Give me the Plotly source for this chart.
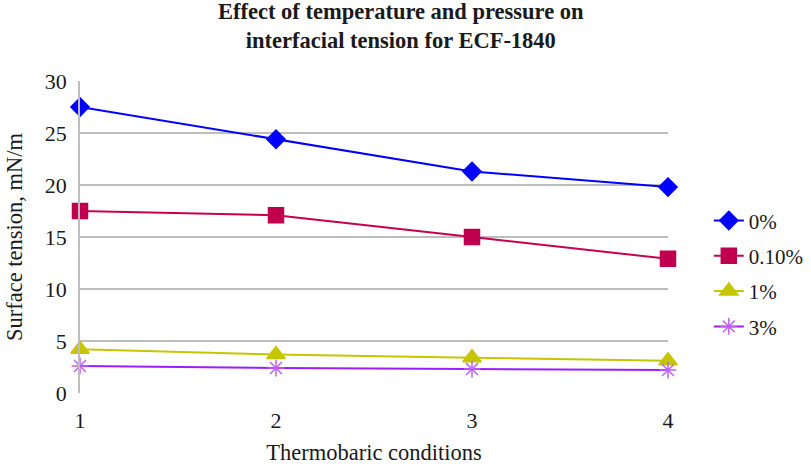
import plotly.graph_objects as go

conditions = [1, 2, 3, 4]
series_names = ["0%", "0.10%", "1%", "3%"]
v0 = [27.5, 24.4, 21.3, 19.8]
v010 = [17.5, 17.1, 15.0, 12.9]
v1 = [4.2, 3.7, 3.4, 3.1]
v3 = [2.6, 2.4, 2.3, 2.2]
y_ticks = [0, 5, 10, 15, 20, 25, 30]

styles = [
    dict(color="#0000ff", mcolor="#0000ff", symbol="diamond", size=14),
    dict(color="#c8004f", mcolor="#c0004e", symbol="square", size=15),
    dict(color="#c6c600", mcolor="#c6c600", symbol="triangle-up", size=16),
    dict(color="#9a1dff", mcolor="#c060ff", symbol="asterisk-open", size=14),
]

FF = "Liberation Serif, Times New Roman, serif"
TXT = "#1a1a1a"
FS = 22

fig = go.Figure()
for i, (name, vals) in enumerate(zip(series_names, [v0, v010, v1, v3])):
    s = styles[i]
    fig.add_trace(go.Scatter(
        x=conditions, y=vals, name=name, mode="lines+markers",
        legendgroup=name,
        line=dict(color=s["color"], width=2),
        marker=dict(symbol=s["symbol"], size=s["size"], color=s["mcolor"],
                    line=dict(color=s["mcolor"], width=1.5)),
        cliponaxis=False,
    ))

fig.add_annotation(
    text="<b>Effect of temperature and pressure on<br>interfacial tension for ECF-1840</b>",
    xref="paper", yref="paper", x=0.546, y=1.0, xanchor="center", yanchor="bottom",
    yshift=26, showarrow=False, align="center",
    font=dict(family=FF, size=22.5, color=TXT),
)

fig.update_layout(
    width=811, height=467,
    margin=dict(l=80, r=143, t=81, b=74),
    paper_bgcolor="white", plot_bgcolor="white",
    font=dict(family=FF, size=FS, color=TXT),
    xaxis=dict(range=[1, 4], tickvals=conditions, showgrid=False, zeroline=False,
               showline=False, ticks="", ticklabelstandoff=12, automargin=False,
               title=dict(text="Thermobaric conditions", standoff=12,
                          font=dict(family=FF, size=22.5, color=TXT)),
               tickfont=dict(family=FF, size=FS, color=TXT)),
    yaxis=dict(range=[0, 30], tickvals=y_ticks, showgrid=True, gridcolor="#bdbdbd",
               gridwidth=1.5, zeroline=False, showline=True, linecolor="#bdbdbd",
               linewidth=1.5, ticks="", ticklabelstandoff=7, automargin=False,
               title=dict(text="Surface tension, mN/m", standoff=16,
                          font=dict(family=FF, size=22.5, color=TXT)),
               tickfont=dict(family=FF, size=FS, color=TXT)),
    legend=dict(xref="container", yref="container", x=0.874, xanchor="left",
                y=0.571, yanchor="top",
                tracegroupgap=5, font=dict(family=FF, size=21, color=TXT),
                bgcolor="rgba(0,0,0,0)"),
    showlegend=True,
)

fig.write_html("out.html")
